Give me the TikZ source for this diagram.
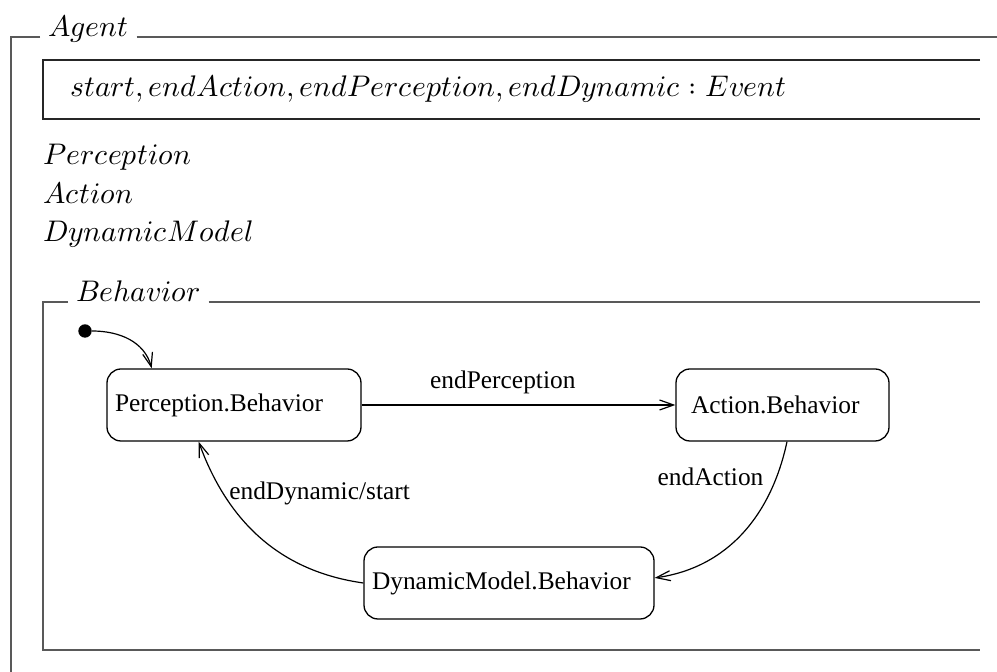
\documentclass[tikz,border=0pt]{standalone}
\usepackage{fontspec}
\usepackage{unicode-math}
\setmainfont{Liberation Serif}
\setmathfont{Latin Modern Math}
\usetikzlibrary{arrows.meta, positioning}

\begin{document}
\begin{tikzpicture}[
  x=0.5pt, y=0.5pt,
  >={Straight Barb[length=7pt, width=5pt]},
  frame/.style={draw=black!65, line width=0.7pt},
  sigbox/.style={draw=black!85, line width=0.6pt},
  zed/.style={font=\fontsize{14.9}{18}\selectfont, inner sep=0pt},
  ztitle/.style={zed, anchor=base west, inner xsep=4pt},
  state/.style={
    draw, rounded corners=7pt, line width=0.65pt,
    minimum height=36pt, align=left,
    font=\fontsize{12.7}{15}\selectfont
  },
  init/.style={circle, fill=black, inner sep=0pt, minimum size=6.7pt},
  arr/.style={->, line width=0.6pt},
  lbl/.style={font=\fontsize{12.7}{15}\selectfont},
]
\useasboundingbox (0,0) rectangle (997,-672);

%% ── Agent class frame ─────────────────────────────────────────────────────
\node[ztitle] (agent) at (40,-37) {$Agent$};
\draw[frame] (agent.base west) -- (11,-37) -- (11,-672);
\draw[frame] (agent.base east) -- (997,-37);

%% ── Event signature box ───────────────────────────────────────────────────
\draw[sigbox] (980,-60) -- (43,-60) -- (43,-119) -- (980,-119);
\node[zed, anchor=base west] (events) at (70,-97)
  {$start, endAction, endPerception, endDynamic : Event$};

%% ── Components ────────────────────────────────────────────────────────────
\node[zed, anchor=base west] (perc) at (43,-165) {$Perception$};
\node[zed, anchor=base west] (act)  at (43,-204) {$Action$};
\node[zed, anchor=base west] (dyn)  at (43,-242) {$DynamicModel$};

%% ── Behavior frame ────────────────────────────────────────────────────────
\node[ztitle] (beh) at (68,-302) {$Behavior$};
\draw[frame] (beh.base west) -- (43,-302) -- (43,-650) -- (980,-650);
\draw[frame] (beh.base east) -- (980,-302);

%% ── States ────────────────────────────────────────────────────────────────
\node[init] (start) at (85,-331) {};
\node[state, inner xsep=4pt, text width=119pt]   (P) at (234,-405)   {Perception.Behavior};
\node[state, inner xsep=7.5pt, text width=91.5pt] (A) at (782.5,-405) {Action.Behavior};
\node[state, inner xsep=4pt, text width=137pt]   (D) at (509,-583)   {DynamicModel.Behavior};

%% ── Transitions ───────────────────────────────────────────────────────────
\draw[arr] (start) to[out=0, in=105] (P.156);
\draw[arr] (P) -- node[lbl, above, pos=0.45, yshift=2pt] {endPerception} (A);
\draw[arr] (A.277) to[out=-102, in=8]
  node[lbl, left, pos=0.17, xshift=-3pt] {endAction} (D.2);
\draw[arr] (D.west) to[out=172, in=-70]
  node[lbl, right, pos=0.74, yshift=2pt, xshift=-2pt] {endDynamic/start} (P.226);

\end{tikzpicture}
\end{document}
